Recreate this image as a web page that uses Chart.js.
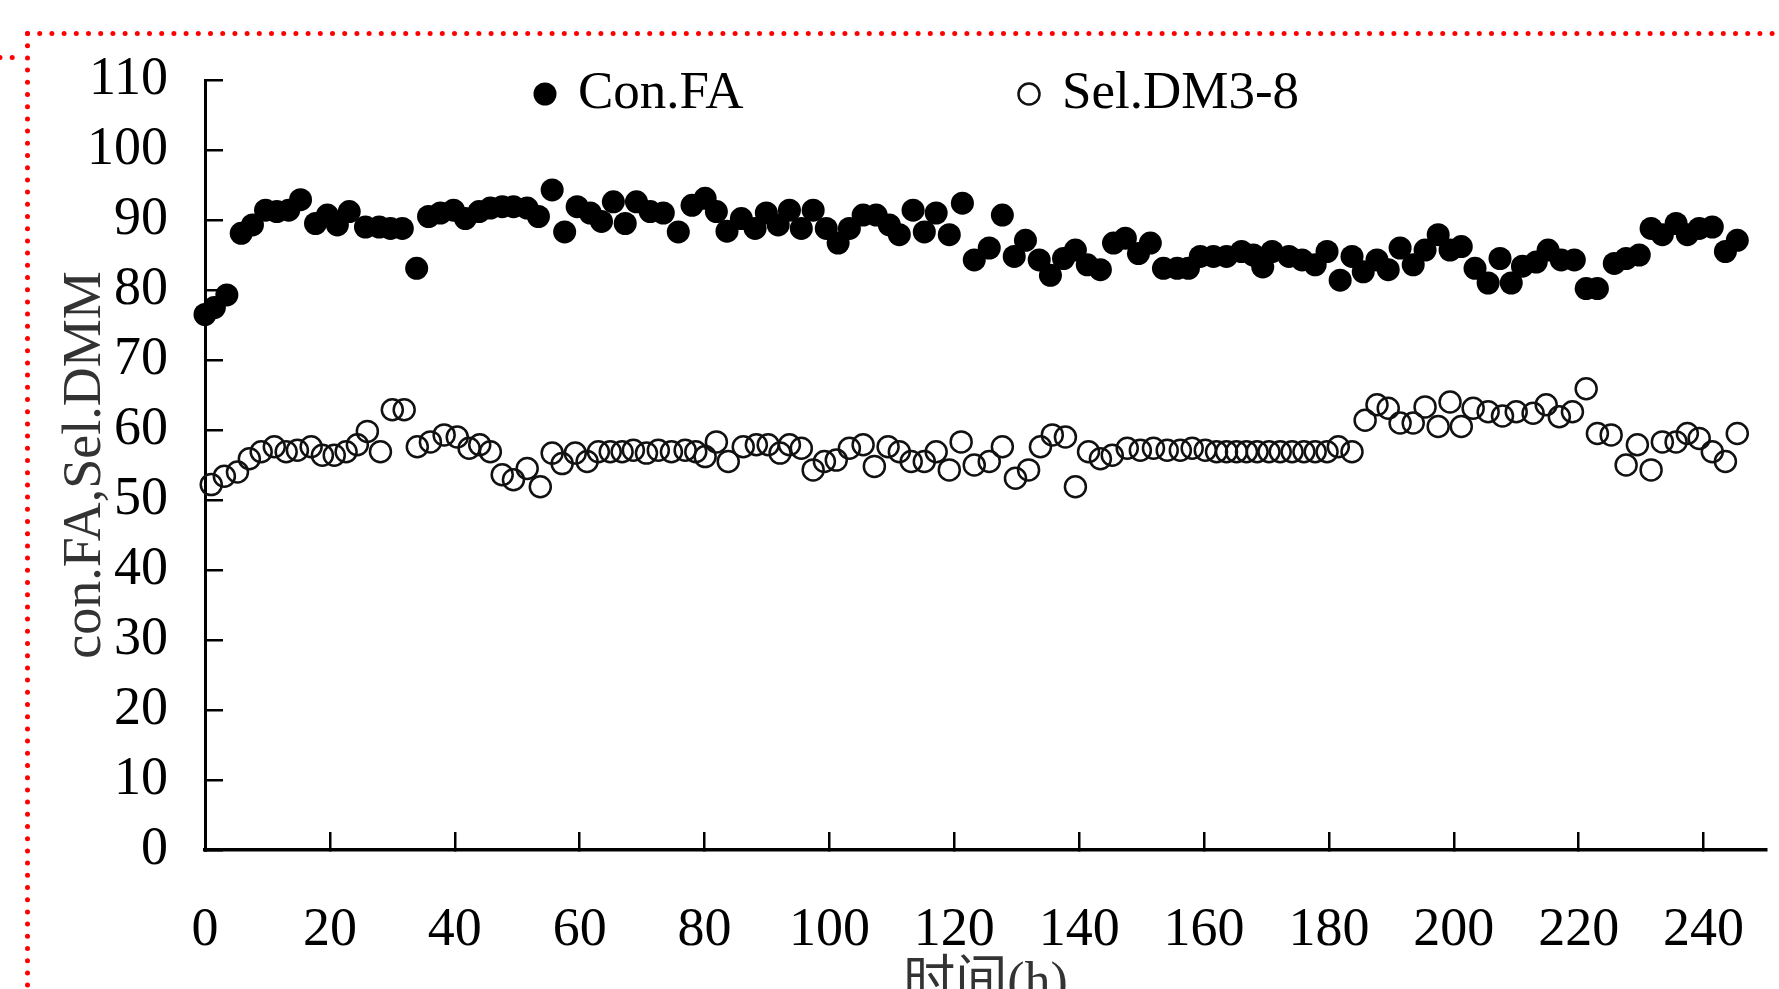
<!DOCTYPE html>
<html>
<head>
<meta charset="utf-8">
<title>Con.FA / Sel.DM3-8</title>
<script src="https://cdn.jsdelivr.net/npm/chart.js@4/dist/chart.umd.min.js"></script>
<style>
  html, body { margin: 0; padding: 0; background: #fff; overflow: hidden; }
  canvas { display: block; }
</style>
</head>
<body>
<canvas id="chart" width="1779" height="989"></canvas>
<script>
// values (time in h, percent)
const conTime = [0, 1.5, 3.5, 5.8, 7.6, 9.7, 11.5, 13.4, 15.3, 17.7, 19.6, 21.2, 23.1, 25.7, 27.9, 29.7, 31.6, 33.9, 35.8, 37.7,
    39.8, 41.7, 43.9, 45.7, 47.6, 49.4, 51.6, 53.4, 55.6, 57.6, 59.6, 61.7, 63.5, 65.4, 67.3, 69.1, 71.3, 73.4, 75.8, 78.0,
    80.1, 81.9, 83.6, 85.9, 88.1, 89.9, 91.8, 93.6, 95.5, 97.4, 99.5, 101.4, 103.2, 105.4, 107.5, 109.6, 111.2, 113.4, 115.2, 117.1,
    119.2, 121.3, 123.2, 125.6, 127.7, 129.6, 131.4, 133.6, 135.4, 137.5, 139.4, 141.3, 143.4, 145.5, 147.4, 149.5, 151.4, 153.5, 155.7, 157.5,
    159.4, 161.5, 163.6, 166.0, 167.9, 169.4, 170.9, 173.6, 175.7, 177.8, 179.7, 181.8, 183.7, 185.5, 187.7, 189.5, 191.4, 193.5, 195.4, 197.5,
    199.4, 201.2, 203.4, 205.5, 207.4, 209.2, 211.0, 213.2, 215.1, 217.2, 219.3, 221.2, 223.0, 225.7, 227.6, 229.7, 231.6, 233.4, 235.6, 237.4,
    239.3, 241.4, 243.5, 245.4];
const conValue = [76.5, 77.5, 79.3, 88.1, 89.3, 91.4, 91.2, 91.4, 92.9, 89.5, 90.7, 89.3, 91.2, 89.0, 89.0, 88.8, 88.8, 83.1, 90.5, 91.0,
    91.4, 90.2, 91.2, 91.7, 91.9, 91.9, 91.7, 90.5, 94.3, 88.3, 91.9, 91.0, 89.8, 92.6, 89.5, 92.6, 91.2, 91.0, 88.3, 92.1,
    93.1, 91.2, 88.4, 90.2, 88.8, 91.0, 89.3, 91.4, 88.8, 91.4, 88.8, 86.7, 88.8, 90.7, 90.7, 89.3, 87.9, 91.4, 88.3, 91.0,
    87.9, 92.4, 84.3, 86.0, 90.7, 84.8, 87.1, 84.3, 82.1, 84.5, 85.7, 83.6, 82.9, 86.7, 87.4, 85.2, 86.7, 83.1, 83.1, 83.1,
    84.8, 84.8, 84.8, 85.5, 85.0, 83.3, 85.5, 84.8, 84.3, 83.6, 85.5, 81.4, 84.8, 82.6, 84.3, 82.9, 86.0, 83.6, 85.7, 87.9,
    85.7, 86.2, 83.1, 81.0, 84.5, 81.0, 83.4, 84.0, 85.7, 84.3, 84.3, 80.2, 80.2, 83.8, 84.5, 85.0, 88.8, 87.9, 89.5, 87.9,
    88.8, 89.0, 85.5, 87.1];

const selTime = [1.0, 3.1, 5.2, 7.1, 9.0, 11.1, 13.0, 14.8, 17.0, 18.8, 20.7, 22.6, 24.4, 26.0, 28.1, 30.0, 31.9, 34.0, 36.1, 38.3,
    40.4, 42.3, 44.0, 45.7, 47.6, 49.4, 51.6, 53.7, 55.6, 57.2, 59.3, 61.2, 63.0, 64.9, 66.8, 68.6, 70.7, 72.6, 74.7, 76.9,
    78.6, 80.1, 81.9, 83.8, 86.2, 88.3, 90.2, 92.1, 93.6, 95.5, 97.4, 99.2, 101.1, 103.2, 105.4, 107.2, 109.4, 111.2, 113.1, 115.2,
    117.1, 119.2, 121.1, 123.2, 125.6, 127.7, 129.8, 131.9, 133.8, 135.7, 137.8, 139.4, 141.5, 143.4, 145.3, 147.7, 149.8, 151.9, 154.1, 156.2,
    158.1, 160.2, 162.0, 163.6, 165.2, 166.8, 168.5, 170.4, 172.2, 174.1, 176.0, 177.8, 179.7, 181.5, 183.7, 185.8, 187.7, 189.5, 191.4, 193.5,
    195.4, 197.5, 199.4, 201.2, 203.1, 205.5, 207.8, 210.0, 212.7, 214.8, 216.9, 219.0, 221.2, 223.0, 225.2, 227.6, 229.4, 231.6, 233.4, 235.6,
    237.4, 239.3, 241.4, 243.5, 245.4];
const selValue = [52.2, 53.4, 54.0, 55.9, 56.9, 57.6, 56.9, 57.1, 57.6, 56.4, 56.4, 56.9, 57.9, 59.8, 56.9, 62.9, 62.9, 57.6, 58.3, 59.3,
    59.0, 57.4, 57.9, 56.9, 53.6, 52.9, 54.5, 51.9, 56.7, 55.2, 56.7, 55.5, 56.9, 56.9, 56.9, 57.1, 56.7, 57.1, 56.9, 57.1,
    56.9, 56.2, 58.3, 55.5, 57.6, 57.9, 57.9, 56.7, 57.9, 57.4, 54.3, 55.5, 55.7, 57.4, 57.9, 54.8, 57.6, 56.9, 55.5, 55.5,
    56.9, 54.3, 58.3, 55.0, 55.5, 57.6, 53.1, 54.3, 57.6, 59.3, 59.0, 51.9, 56.9, 55.9, 56.4, 57.4, 57.1, 57.4, 57.1, 57.1,
    57.4, 57.1, 56.9, 56.9, 56.9, 56.9, 56.9, 56.9, 56.9, 56.9, 56.9, 56.9, 56.9, 57.6, 56.9, 61.4, 63.6, 63.1, 61.0, 61.0,
    63.3, 60.5, 64.0, 60.5, 63.1, 62.6, 62.0, 62.6, 62.4, 63.6, 61.9, 62.6, 65.9, 59.5, 59.3, 55.0, 57.9, 54.3, 58.3, 58.3,
    59.5, 58.8, 56.9, 55.5, 59.5];

const seriesNames = ['Con.FA', 'Sel.DM3-8'];
const xTicks = [0, 20, 40, 60, 80, 100, 120, 140, 160, 180, 200, 220, 240];
const yTicks = [0, 10, 20, 30, 40, 50, 60, 70, 80, 90, 100, 110];
const xTitle = '时间(h)';
const yTitle = 'con.FA,Sel.DMM';

const serif = "'Liberation Serif', 'Noto Sans CJK SC', serif";

function toPoints(xs, ys) {
    return xs.map((x, i) => ({ x: x, y: ys[i] }));
}

// red dotted frame around the figure
const frame = {
    id: 'frame',
    beforeDraw(chart) {
        const ctx = chart.ctx;
        ctx.save();
        ctx.strokeStyle = '#ff0000';
        ctx.lineWidth = 5;
        ctx.lineCap = 'round';
        ctx.setLineDash([0, 12.2]);
        ctx.beginPath();
        ctx.moveTo(27.5, 33.5);
        ctx.lineTo(chart.width, 33.5);
        ctx.stroke();
        ctx.beginPath();
        ctx.moveTo(27.5, 33.5);
        ctx.lineTo(27.5, chart.height);
        ctx.stroke();
        ctx.beginPath();
        ctx.moveTo(0, 57.5);
        ctx.lineTo(14, 57.5);
        ctx.stroke();
        ctx.restore();
    }
};

// legend row drawn inside the plot, as in the original figure
const legendRow = {
    id: 'legendRow',
    afterDraw(chart) {
        const ctx = chart.ctx;
        const markerX = [545, 1029];
        const y = 94;
        ctx.save();
        ctx.font = '53px ' + serif;
        ctx.textBaseline = 'middle';
        ctx.textAlign = 'left';
        chart.data.datasets.forEach((ds, i) => {
            ctx.beginPath();
            ctx.arc(markerX[i], y, ds.pointRadius, 0, Math.PI * 2);
            if (ds.pointBorderWidth > 0) {
                ctx.lineWidth = ds.pointBorderWidth;
                ctx.strokeStyle = ds.pointBorderColor;
                ctx.stroke();
            } else {
                ctx.fillStyle = ds.pointBackgroundColor;
                ctx.fill();
            }
            ctx.fillStyle = '#000';
            ctx.fillText(ds.label, markerX[i] + 33, y);
        });
        ctx.restore();
    }
};

const canvas = document.getElementById('chart');
const chart = new Chart(canvas.getContext('2d'), {
    type: 'scatter',
    data: {
        datasets: [{
            label: seriesNames[0],
            data: toPoints(conTime, conValue),
            pointStyle: 'circle',
            pointRadius: 11.5,
            pointHoverRadius: 11.5,
            pointBackgroundColor: '#000',
            pointBorderColor: '#000',
            pointBorderWidth: 0,
            showLine: false,
            clip: false
        }, {
            label: seriesNames[1],
            data: toPoints(selTime, selValue),
            pointStyle: 'circle',
            pointRadius: 10.5,
            pointHoverRadius: 10.5,
            pointBackgroundColor: 'rgba(0,0,0,0)',
            pointBorderColor: '#111',
            pointBorderWidth: 2.5,
            showLine: false,
            clip: false
        }]
    },
    options: {
        responsive: false,
        animation: false,
        layout: { padding: { left: 0, right: 9, top: 80, bottom: 0 } },
        plugins: {
            legend: { display: false },
            tooltip: { enabled: false }
        },
        scales: {
            x: {
                type: 'linear',
                position: 'bottom',
                min: 0,
                max: 250,
                afterBuildTicks: s => { s.ticks = xTicks.map(v => ({ value: v })); },
                afterFit: s => {
                    s.height = 139;
                    s.paddingLeft = 0;
                    s.paddingRight = 0;
                },
                ticks: {
                    autoSkip: false,
                    maxRotation: 0,
                    padding: 66,
                    color: '#000',
                    font: { family: serif, size: 54 }
                },
                grid: { drawOnChartArea: false, tickLength: -18, lineWidth: 2.5, color: '#000' },
                border: { color: '#000', width: 3.5 },
                title: {
                    display: true,
                    text: xTitle,
                    color: '#333',
                    font: { family: serif, size: 52 },
                    padding: { top: 0, bottom: -27 }
                }
            },
            y: {
                type: 'linear',
                min: 0,
                max: 110,
                afterBuildTicks: s => { s.ticks = yTicks.map(v => ({ value: v })); },
                afterFit: s => {
                    s.width = 205;
                    s.paddingTop = 0;
                    s.paddingBottom = 0;
                },
                ticks: {
                    padding: 55,
                    color: '#000',
                    font: { family: serif, size: 54 }
                },
                grid: { drawOnChartArea: false, tickLength: -18, lineWidth: 2.5, color: '#000' },
                border: { color: '#000', width: 3 },
                title: {
                    display: true,
                    text: yTitle,
                    color: '#333',
                    font: { family: serif, size: 54 },
                    padding: { top: 53, bottom: 0 }
                }
            }
        }
    },
    plugins: [frame, legendRow]
});
</script>
</body>
</html>
